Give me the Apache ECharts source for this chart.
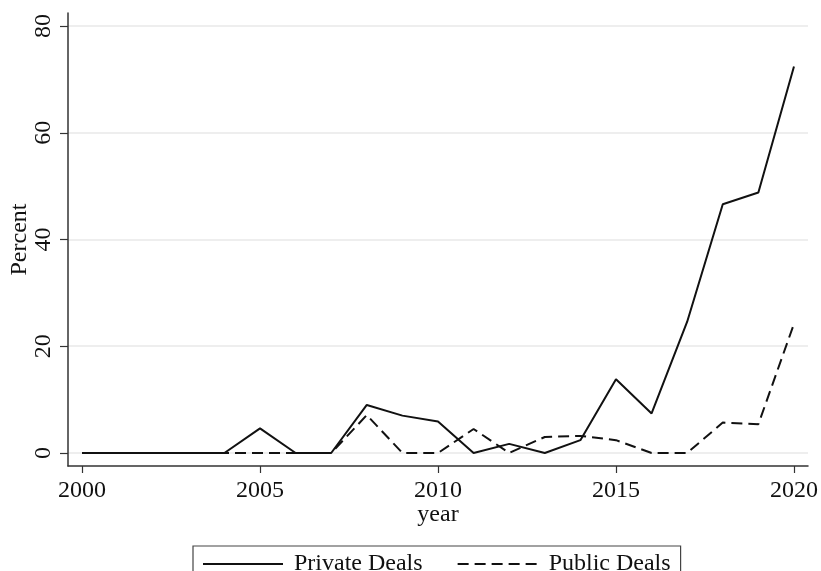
<!DOCTYPE html>
<html>
<head>
<meta charset="utf-8">
<script src="https://cdn.jsdelivr.net/npm/echarts@6/dist/echarts.min.js"></script>
<style>
  html, body { margin: 0; padding: 0; background: #fff; }
  #chart { width: 821px; height: 571px; }
</style>
</head>
<body>
<div id="chart"></div>
<script>
// Share of deals by year (percent)
const years = [2000, 2001, 2002, 2003, 2004, 2005, 2006, 2007, 2008, 2009, 2010,
               2011, 2012, 2013, 2014, 2015, 2016, 2017, 2018, 2019, 2020];
const privateDeals = [0, 0, 0, 0, 0, 4.6, 0, 0, 9.0, 7.0, 5.9,
                      0, 1.7, 0, 2.4, 13.8, 7.4, 24.6, 46.6, 48.8, 72.4];
const publicDeals = [0, 0, 0, 0, 0, 0, 0, 0, 7.1, 0, 0,
                     4.5, 0, 3.0, 3.2, 2.4, 0, 0, 5.7, 5.4, 24.2];
const xTicks = [2000, 2005, 2010, 2015, 2020];
const yTicks = [0, 20, 40, 60, 80];

const pairs = (vals) => years.map((y, i) => [y, vals[i]]);
const FONT = '"Liberation Serif", "DejaVu Serif", serif';

const chart = echarts.init(document.getElementById('chart'), null, { renderer: 'canvas' });
chart.setOption({
  animation: false,
  backgroundColor: '#ffffff',
  textStyle: { fontFamily: FONT, color: '#111' },
  grid: { left: 68, right: 13, top: 13, bottom: 105, containLabel: false, outerBoundsMode: 'none' },
  xAxis: {
    type: 'value',
    min: 1999.606,
    max: 2020.394,
    name: 'year',
    nameLocation: 'middle',
    nameGap: 37,
    nameMoveOverlap: false,
    nameTextStyle: { fontFamily: FONT, fontSize: 24, color: '#111' },
    axisLine: { onZero: false, lineStyle: { color: '#333', width: 1.5 } },
    axisTick: { show: true, length: 7, customValues: xTicks, lineStyle: { color: '#333', width: 1.2 } },
    axisLabel: {
      customValues: xTicks, margin: 13, fontFamily: FONT, fontSize: 24, color: '#111',
      formatter: (v) => String(v)
    },
    splitLine: { show: false }
  },
  yAxis: {
    type: 'value',
    min: -2.44,
    max: 82.44,
    name: 'Percent',
    nameLocation: 'middle',
    nameGap: 36,
    nameMoveOverlap: false,
    nameRotate: 90,
    nameTextStyle: { fontFamily: FONT, fontSize: 24, color: '#111' },
    axisLine: { show: true, onZero: false, lineStyle: { color: '#333', width: 1.5 } },
    axisTick: { show: true, length: 8, customValues: yTicks, lineStyle: { color: '#333', width: 1.2 } },
    axisLabel: {
      customValues: yTicks, rotate: 90, margin: 12, fontFamily: FONT, fontSize: 24, color: '#111',
      formatter: (v) => String(v)
    },
    splitLine: { show: true, lineStyle: { color: '#e8e8e8', width: 1.5 } }
  },
  legend: {
    left: 193,
    top: 546,
    orient: 'horizontal',
    padding: [6, 10, 12, 9],
    itemGap: 34,
    itemWidth: 80,
    itemHeight: 14,
    borderColor: '#444',
    borderWidth: 1.2,
    itemStyle: { opacity: 0 },
    textStyle: { fontFamily: FONT, fontSize: 24, color: '#111', padding: [0, 0, 0, 6] },
    data: ['Private Deals', 'Public Deals']
  },
  series: [
    {
      name: 'Private Deals',
      type: 'line',
      data: pairs(privateDeals),
      symbol: 'none',
      lineStyle: { color: '#111', width: 2, type: 'solid' },
      itemStyle: { color: '#111' }
    },
    {
      name: 'Public Deals',
      type: 'line',
      data: pairs(publicDeals),
      symbol: 'none',
      lineStyle: { color: '#111', width: 2, type: [11, 6] },
      itemStyle: { color: '#111' }
    }
  ]
});
</script>
</body>
</html>
